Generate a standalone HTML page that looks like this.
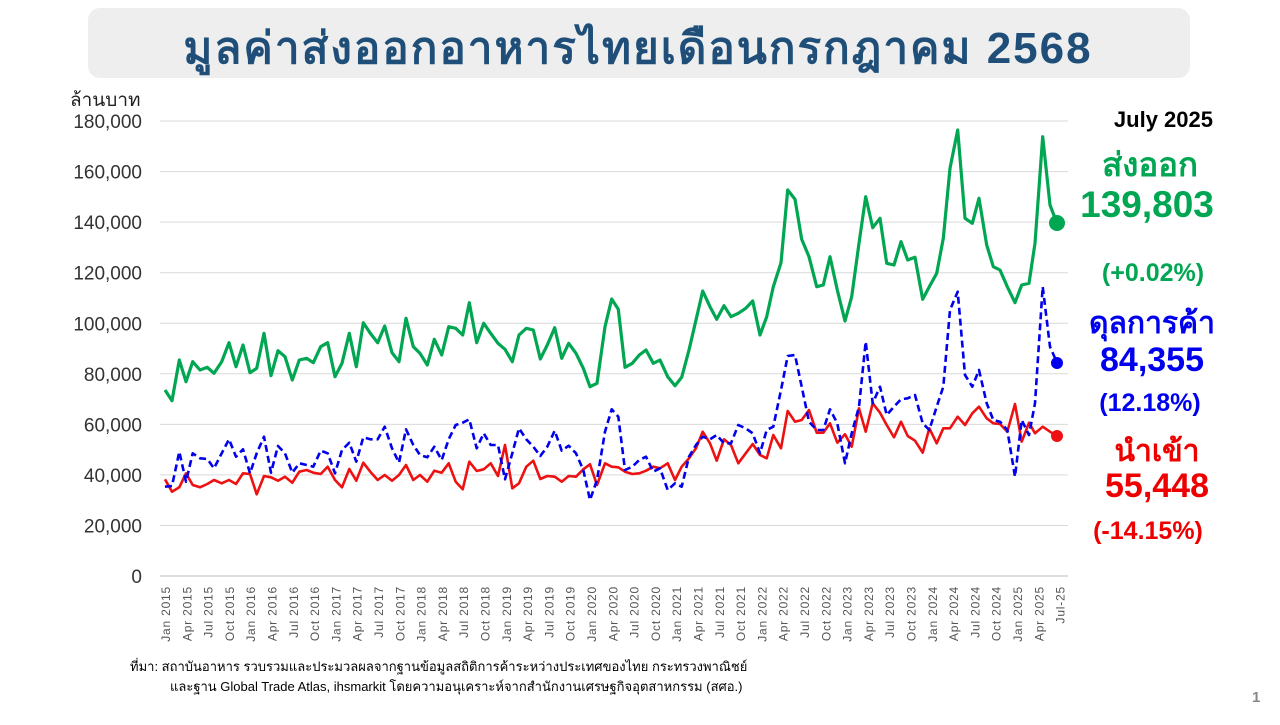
<!DOCTYPE html>
<html><head><meta charset="utf-8">
<style>
body{margin:0;width:1280px;height:720px;background:#fff;overflow:hidden;font-family:"Liberation Sans","Noto Sans CJK SC",sans-serif;}
</style></head><body>
<svg id="s" width="1280" height="720" xmlns="http://www.w3.org/2000/svg" font-family="Liberation Sans, Noto Sans CJK SC, sans-serif">
<rect x="88" y="8" width="1102" height="70" rx="12" fill="#eeeeee"/>
<text x="638" y="63" text-anchor="middle" font-size="44" font-weight="bold" fill="#1f4e79" letter-spacing="2">มูลค่าส่งออกอาหารไทยเดือนกรกฎาคม 2568</text>
<text x="70" y="106" font-size="19" fill="#222">ล้านบาท</text>
<g id="grid"></g>
<g id="lines"></g>
<text x="1213" y="127" text-anchor="end" font-size="22" font-weight="bold" fill="#000">July 2025</text>
<text x="1150" y="176" text-anchor="middle" font-size="33" font-weight="bold" fill="#00a651">ส่งออก</text>
<text x="1147" y="217" text-anchor="middle" font-size="37" font-weight="bold" fill="#00a651">139,803</text>
<text x="1153" y="281" text-anchor="middle" font-size="25" font-weight="bold" fill="#00a651">(+0.02%)</text>
<text x="1152" y="333" text-anchor="middle" font-size="30" font-weight="bold" fill="#0000ee">ดุลการค้า</text>
<text x="1152" y="371" text-anchor="middle" font-size="34" font-weight="bold" fill="#0000ee">84,355</text>
<text x="1150" y="411" text-anchor="middle" font-size="25" font-weight="bold" fill="#0000ee">(12.18%)</text>
<text x="1157" y="461" text-anchor="middle" font-size="30" font-weight="bold" fill="#ee0000">นำเข้า</text>
<text x="1157" y="497" text-anchor="middle" font-size="34" font-weight="bold" fill="#ee0000">55,448</text>
<text x="1148" y="539" text-anchor="middle" font-size="25" font-weight="bold" fill="#ee0000">(-14.15%)</text>
<text x="130" y="671" font-size="13" fill="#000">ที่มา: สถาบันอาหาร รวบรวมและประมวลผลจากฐานข้อมูลสถิติการค้าระหว่างประเทศของไทย กระทรวงพาณิชย์</text>
<text x="170" y="691" font-size="13" fill="#000">และฐาน Global Trade Atlas, ihsmarkit โดยความอนุเคราะห์จากสำนักงานเศรษฐกิจอุตสาหกรรม (สศอ.)</text>
<text x="1252" y="702" font-size="15" font-weight="bold" fill="#888">1</text>
</svg>
<script>
var NS="http://www.w3.org/2000/svg";
function el(t,a,p,txt){var e=document.createElementNS(NS,t);for(var k in a)e.setAttribute(k,a[k]);if(txt)e.textContent=txt;p.appendChild(e);return e;}
var g=document.getElementById('grid'),L=document.getElementById('lines');
for(var i=0;i<=9;i++){var y=576-i*50.55;
 el('line',{x1:160,x2:1068,y1:y,y2:y,stroke:i==0?'#bbb':'#d9d9d9','stroke-width':1},g);
 el('text',{x:142,y:y+7,'text-anchor':'end','font-size':19,fill:'#333'},g,i==0?'0':(i*20)+',000');}
var mo=['Jan','Apr','Jul','Oct'];
for(var i=0;i<=126;i+=3){var x=166+i*7.1;var yr=2015+Math.floor(i/12);
 var lab=(i==126)?'Jul-25':mo[(i%12)/3]+' '+yr;
 el('text',{x:0,y:0,transform:'translate('+(x+4)+',586) rotate(-90)','text-anchor':'end','font-size':12,fill:'#555','letter-spacing':'0.8'},g,lab);}
function pts(a1,a2){var o=[];for(var i=0;i<a1.length;i+=2){if(a1[i]>1345)continue;o.push([150+a1[i]/3,280+a1[i+1]/3]);}
 for(var i=0;i<a2.length;i+=2){if(a2[i]<10)continue;o.push([600+a2[i]/3,120+a2[i+1]/3]);}return o;}
var G1=[45,330,66,362,88,240,108,305,128,245,150,270,172,262,192,280,215,245,237,188,258,260,279,195,300,278,320,265,342,160,363,287,384,212,405,230,427,300,448,240,470,235,490,248,512,200,533,188,555,290,576,250,598,160,619,260,640,128,661,160,683,188,704,138,726,218,747,245,768,115,790,200,810,220,832,255,853,178,875,225,896,140,917,145,938,165,958,68,980,188,1001,130,1022,160,1044,190,1065,208,1087,245,1107,165,1129,145,1150,150,1171,237,1192,195,1214,143,1235,235,1256,190,1278,220,1300,265,1320,320,1341,310];
var G2=[0,750,15,620,35,537,55,568,75,742,97,730,118,705,138,690,160,730,180,720,203,770,225,797,245,772,267,690,288,600,308,513,330,560,350,598,372,557,393,590,415,580,437,565,458,543,480,645,500,590,520,500,543,428,563,210,585,238,605,358,627,410,650,500,670,495,690,410,712,510,735,603,755,530,777,370,797,230,818,323,840,295,860,430,882,435,903,365,923,420,945,412,968,538,988,500,1010,460,1030,355,1050,145,1073,30,1095,295,1117,310,1137,235,1160,375,1180,440,1200,450,1222,500,1245,548,1265,495,1287,490,1305,370,1328,50,1350,255,1372,312];
var B1=[45,620,66,618,88,515,108,605,128,520,150,535,172,537,192,565,215,520,237,478,258,530,279,508,300,580,320,520,342,470,363,578,384,498,405,520,427,578,448,550,470,555,490,560,512,512,533,520,555,580,576,510,598,488,619,545,640,472,661,478,683,478,704,440,726,505,747,548,768,448,790,495,810,525,832,532,853,500,875,540,896,478,917,435,938,428,958,418,980,505,1001,460,1022,495,1044,495,1065,598,1087,520,1107,445,1129,478,1150,500,1171,528,1192,500,1214,452,1235,512,1256,497,1278,520,1300,570,1320,660,1341,600];
var B2=[0,1000,15,935,35,868,55,890,75,1050,97,1040,118,1020,138,1010,160,1055,180,1045,203,1110,225,1090,245,1100,267,1010,288,975,308,950,330,958,350,945,372,970,393,970,415,915,437,925,458,940,480,1000,500,930,520,920,543,810,563,708,585,705,605,800,627,905,650,930,670,930,690,868,712,910,735,1030,755,940,777,860,797,665,818,850,840,800,860,885,882,860,903,838,923,835,945,825,968,910,988,930,1010,860,1030,800,1050,570,1073,515,1095,765,1117,800,1137,750,1160,850,1180,900,1200,905,1222,930,1245,1070,1265,900,1287,945,1305,850,1328,500,1350,680,1372,730];
var R1=[45,598,66,635,88,622,108,580,128,615,150,622,172,612,192,600,215,610,237,600,258,612,279,580,300,582,320,643,342,588,363,592,384,602,405,590,427,608,448,575,470,570,490,578,512,582,533,560,555,600,576,622,598,567,619,602,640,548,661,575,683,600,704,585,726,602,747,585,768,555,790,600,810,585,832,605,853,572,875,578,896,550,917,605,938,628,958,545,980,573,1001,568,1022,550,1044,588,1065,495,1087,625,1107,610,1129,560,1150,542,1171,597,1192,588,1214,590,1235,605,1256,588,1278,590,1300,568,1320,553,1341,615];
var R2=[0,1040,15,1030,35,1040,55,1042,75,1055,97,1062,118,1060,138,1052,160,1040,180,1045,203,1030,225,1080,245,1040,267,1015,288,985,308,935,330,970,350,1022,372,958,393,975,415,1030,437,1000,458,972,480,1005,500,1015,520,945,543,985,563,873,585,905,605,900,627,870,650,938,670,938,690,910,712,968,735,943,755,980,777,865,797,935,818,850,840,878,860,915,882,952,903,905,923,948,945,962,968,998,988,925,1010,970,1030,925,1050,925,1073,890,1095,915,1117,880,1137,860,1160,895,1180,910,1200,912,1222,935,1245,852,1265,965,1287,908,1305,940,1328,920,1350,935,1372,948];
function line(p,c,w,d){var s=p.map(function(q){return q[0].toFixed(1)+','+q[1].toFixed(1)}).join(' ');
 var a={points:s,fill:'none',stroke:c,'stroke-width':w,'stroke-linejoin':'round'};if(d)a['stroke-dasharray']=d;el('polyline',a,L);}
var r=pts(R1,R2),b=pts(B1,B2),gr=pts(G1,G2);
line(r,'#ee1111',2.6);line(b,'#0000ee',2.6,'7,4');line(gr,'#00a651',3.2);
el('circle',{cx:1057,cy:223,r:8,fill:'#00a651'},L);
el('circle',{cx:1057,cy:363,r:6,fill:'#0000ee'},L);
el('circle',{cx:1057,cy:436,r:6,fill:'#ee1111'},L);
</script>
</body></html>
